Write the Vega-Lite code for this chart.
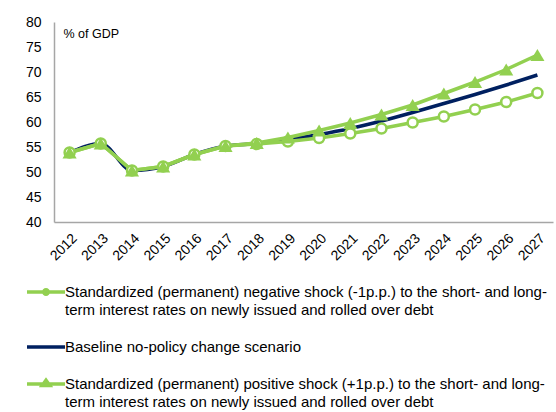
{
  "$schema": "https://vega.github.io/schema/vega-lite/v6.json",
  "width": 499,
  "height": 200,
  "autosize": "none",
  "padding": {"left": 54, "top": 22, "right": 3, "bottom": 190},
  "config": {"font": "Liberation Sans", "view": {"stroke": null}},
  "data": {
    "values": [
      {"series": "Standardized (permanent) negative shock (-1p.p.) to the short- and long-term interest rates on newly issued and rolled over debt", "year": "2012", "value": 53.9},
      {"series": "Standardized (permanent) negative shock (-1p.p.) to the short- and long-term interest rates on newly issued and rolled over debt", "year": "2013", "value": 55.7},
      {"series": "Standardized (permanent) negative shock (-1p.p.) to the short- and long-term interest rates on newly issued and rolled over debt", "year": "2014", "value": 50.3},
      {"series": "Standardized (permanent) negative shock (-1p.p.) to the short- and long-term interest rates on newly issued and rolled over debt", "year": "2015", "value": 51.1},
      {"series": "Standardized (permanent) negative shock (-1p.p.) to the short- and long-term interest rates on newly issued and rolled over debt", "year": "2016", "value": 53.5},
      {"series": "Standardized (permanent) negative shock (-1p.p.) to the short- and long-term interest rates on newly issued and rolled over debt", "year": "2017", "value": 55.2},
      {"series": "Standardized (permanent) negative shock (-1p.p.) to the short- and long-term interest rates on newly issued and rolled over debt", "year": "2018", "value": 55.6},
      {"series": "Standardized (permanent) negative shock (-1p.p.) to the short- and long-term interest rates on newly issued and rolled over debt", "year": "2019", "value": 56.1},
      {"series": "Standardized (permanent) negative shock (-1p.p.) to the short- and long-term interest rates on newly issued and rolled over debt", "year": "2020", "value": 56.8},
      {"series": "Standardized (permanent) negative shock (-1p.p.) to the short- and long-term interest rates on newly issued and rolled over debt", "year": "2021", "value": 57.7},
      {"series": "Standardized (permanent) negative shock (-1p.p.) to the short- and long-term interest rates on newly issued and rolled over debt", "year": "2022", "value": 58.7},
      {"series": "Standardized (permanent) negative shock (-1p.p.) to the short- and long-term interest rates on newly issued and rolled over debt", "year": "2023", "value": 59.9},
      {"series": "Standardized (permanent) negative shock (-1p.p.) to the short- and long-term interest rates on newly issued and rolled over debt", "year": "2024", "value": 61.1},
      {"series": "Standardized (permanent) negative shock (-1p.p.) to the short- and long-term interest rates on newly issued and rolled over debt", "year": "2025", "value": 62.5},
      {"series": "Standardized (permanent) negative shock (-1p.p.) to the short- and long-term interest rates on newly issued and rolled over debt", "year": "2026", "value": 64.0},
      {"series": "Standardized (permanent) negative shock (-1p.p.) to the short- and long-term interest rates on newly issued and rolled over debt", "year": "2027", "value": 65.8},
      {"series": "Baseline no-policy change scenario", "year": "2012", "value": 53.9},
      {"series": "Baseline no-policy change scenario", "year": "2013", "value": 55.7},
      {"series": "Baseline no-policy change scenario", "year": "2014", "value": 50.3},
      {"series": "Baseline no-policy change scenario", "year": "2015", "value": 51.1},
      {"series": "Baseline no-policy change scenario", "year": "2016", "value": 53.5},
      {"series": "Baseline no-policy change scenario", "year": "2017", "value": 55.2},
      {"series": "Baseline no-policy change scenario", "year": "2018", "value": 55.7},
      {"series": "Baseline no-policy change scenario", "year": "2019", "value": 56.5},
      {"series": "Baseline no-policy change scenario", "year": "2020", "value": 57.5},
      {"series": "Baseline no-policy change scenario", "year": "2021", "value": 58.7},
      {"series": "Baseline no-policy change scenario", "year": "2022", "value": 60.2},
      {"series": "Baseline no-policy change scenario", "year": "2023", "value": 61.9},
      {"series": "Baseline no-policy change scenario", "year": "2024", "value": 63.7},
      {"series": "Baseline no-policy change scenario", "year": "2025", "value": 65.5},
      {"series": "Baseline no-policy change scenario", "year": "2026", "value": 67.4},
      {"series": "Baseline no-policy change scenario", "year": "2027", "value": 69.4},
      {"series": "Standardized (permanent) positive shock (+1p.p.) to the short- and long-term interest rates on newly issued and rolled over debt", "year": "2012", "value": 53.9},
      {"series": "Standardized (permanent) positive shock (+1p.p.) to the short- and long-term interest rates on newly issued and rolled over debt", "year": "2013", "value": 55.7},
      {"series": "Standardized (permanent) positive shock (+1p.p.) to the short- and long-term interest rates on newly issued and rolled over debt", "year": "2014", "value": 50.3},
      {"series": "Standardized (permanent) positive shock (+1p.p.) to the short- and long-term interest rates on newly issued and rolled over debt", "year": "2015", "value": 51.1},
      {"series": "Standardized (permanent) positive shock (+1p.p.) to the short- and long-term interest rates on newly issued and rolled over debt", "year": "2016", "value": 53.5},
      {"series": "Standardized (permanent) positive shock (+1p.p.) to the short- and long-term interest rates on newly issued and rolled over debt", "year": "2017", "value": 55.2},
      {"series": "Standardized (permanent) positive shock (+1p.p.) to the short- and long-term interest rates on newly issued and rolled over debt", "year": "2018", "value": 55.8},
      {"series": "Standardized (permanent) positive shock (+1p.p.) to the short- and long-term interest rates on newly issued and rolled over debt", "year": "2019", "value": 56.9},
      {"series": "Standardized (permanent) positive shock (+1p.p.) to the short- and long-term interest rates on newly issued and rolled over debt", "year": "2020", "value": 58.3},
      {"series": "Standardized (permanent) positive shock (+1p.p.) to the short- and long-term interest rates on newly issued and rolled over debt", "year": "2021", "value": 59.8},
      {"series": "Standardized (permanent) positive shock (+1p.p.) to the short- and long-term interest rates on newly issued and rolled over debt", "year": "2022", "value": 61.5},
      {"series": "Standardized (permanent) positive shock (+1p.p.) to the short- and long-term interest rates on newly issued and rolled over debt", "year": "2023", "value": 63.4},
      {"series": "Standardized (permanent) positive shock (+1p.p.) to the short- and long-term interest rates on newly issued and rolled over debt", "year": "2024", "value": 65.7},
      {"series": "Standardized (permanent) positive shock (+1p.p.) to the short- and long-term interest rates on newly issued and rolled over debt", "year": "2025", "value": 68.0},
      {"series": "Standardized (permanent) positive shock (+1p.p.) to the short- and long-term interest rates on newly issued and rolled over debt", "year": "2026", "value": 70.5},
      {"series": "Standardized (permanent) positive shock (+1p.p.) to the short- and long-term interest rates on newly issued and rolled over debt", "year": "2027", "value": 73.4}
    ]
  },
  "encoding": {
    "x": {
      "field": "year",
      "type": "ordinal",
      "scale": {"type": "point", "padding": 0.5},
      "axis": {
        "title": null,
        "labelAngle": -45,
        "labelFontSize": 14,
        "labelColor": "#000000",
        "ticks": false,
        "grid": false,
        "domainColor": "#A6A6A6",
        "domainWidth": 1.5,
        "labelPadding": 9
      }
    },
    "y": {
      "field": "value",
      "type": "quantitative",
      "scale": {"domain": [40, 80], "nice": false, "zero": false},
      "axis": {
        "values": [40, 45, 50, 55, 60, 65, 70, 75, 80],
        "ticks": false,
        "grid": false,
        "domainColor": "#A6A6A6",
        "domainWidth": 1.5,
        "labelFontSize": 14,
        "labelColor": "#000000",
        "labelPadding": 13,
        "title": "% of GDP",
        "titleAngle": 0,
        "titleAlign": "left",
        "titleBaseline": "alphabetic",
        "titleX": 9,
        "titleY": 15,
        "titleFontWeight": "normal",
        "titleFontSize": 12.5,
        "titleColor": "#000000"
      }
    },
    "color": {
      "field": "series",
      "type": "nominal",
      "scale": {
        "domain": [
          "Standardized (permanent) negative shock (-1p.p.) to the short- and long-term interest rates on newly issued and rolled over debt",
          "Baseline no-policy change scenario",
          "Standardized (permanent) positive shock (+1p.p.) to the short- and long-term interest rates on newly issued and rolled over debt"
        ],
        "range": ["#92D050", "#002060", "#92D050"]
      },
      "legend": {
        "orient": "none",
        "legendX": -29,
        "legendY": 249,
        "direction": "vertical",
        "title": null,
        "labelFontSize": 15,
        "labelColor": "#000000",
        "labelLimit": 0,
        "labelOffset": -2,
        "rowPadding": 8,
        "labelExpr": "split(replace(datum.label, 'long-term', 'long-|term'), '|')",
        "encode": {
          "symbols": {
            "update": {
              "shape": {"signal": "indexof(datum.value, 'negative') >= 0 ? 'M-1,0H-0.12M0.12,0H1M-0.12,0A0.12,0.12 0 1,0 0.12,0A0.12,0.12 0 1,0 -0.12,0' : indexof(datum.value, 'positive') >= 0 ? 'M-1,0H1M-0.2,0.08L0,-0.2L0.2,0.08Z' : 'M-1,0H1'"},
              "size": {"value": 1444},
              "strokeWidth": {"value": 3.5},
              "fill": {"signal": "indexof(datum.value, 'positive') >= 0 ? '#92D050' : indexof(datum.value, 'negative') >= 0 ? '#D4EDB5' : 'transparent'"}
            }
          },
          "labels": {"update": {"lineHeight": {"value": 18}}}
        }
      }
    }
  },
  "layer": [
    {
      "transform": [{"filter": "datum.series == 'Baseline no-policy change scenario'"}],
      "mark": {"type": "line", "interpolate": "monotone", "strokeWidth": 3.5}
    },
    {
      "transform": [{"filter": "datum.series != 'Baseline no-policy change scenario'"}],
      "mark": {"type": "line", "strokeWidth": 3.5}
    },
    {
      "transform": [{"filter": "indexof(datum.series, 'negative') >= 0"}],
      "mark": {"type": "point", "shape": "circle", "filled": false, "fill": "#ffffff", "fillOpacity": 1, "strokeWidth": 2.5, "size": 100, "opacity": 1}
    },
    {
      "transform": [{"filter": "indexof(datum.series, 'positive') >= 0"}],
      "mark": {"type": "point", "shape": "triangle-up", "filled": true, "size": 200, "opacity": 1}
    }
  ]
}
